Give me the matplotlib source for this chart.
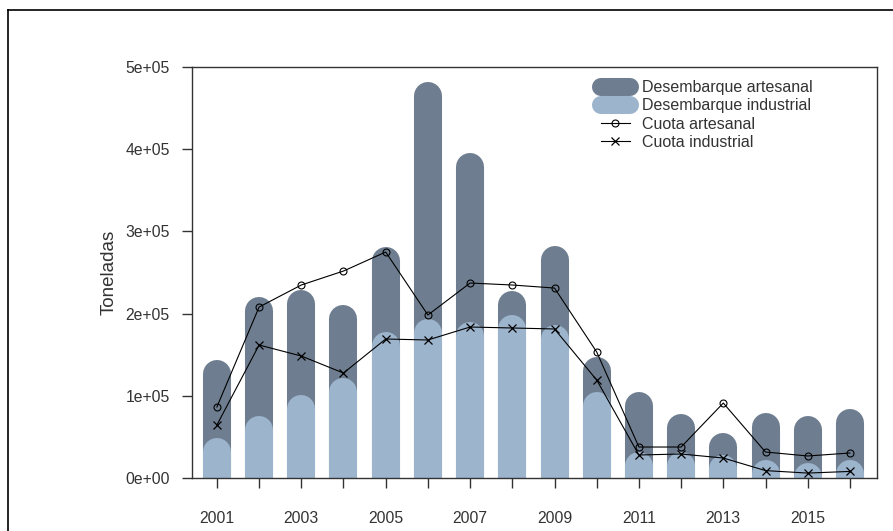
import numpy as np
import matplotlib
matplotlib.use('Agg')
import matplotlib.pyplot as plt
from matplotlib.lines import Line2D

plt.rcParams['font.family'] = ['Liberation Sans', 'DejaVu Sans']

# data (toneladas)
years = list(range(2001, 2017))
desemb_art = [126500, 203000, 211700, 193500, 264000, 464800, 378400, 210500,
              265200, 130200, 87600, 60900, 37700, 62100, 58400, 66900]
desemb_ind = [31700, 58400, 84000, 104700, 160600, 176400, 172800, 181300,
              169000, 87600, 14600, 14600, 11000, 5000, 1500, 5000]
cuota_art = [86400, 208000, 234800, 251800, 274900, 198300, 237200, 234800,
             231100, 153300, 37700, 37700, 91200, 31600, 26800, 30400]
cuota_ind = [64500, 161800, 148400, 127700, 169100, 167900, 183700, 182500,
             181300, 119200, 28000, 29200, 24300, 9000, 6000, 8000]
yticks = [0, 100000, 200000, 300000, 400000, 500000]
ytick_labels = ['0e+00', '1e+05', '2e+05', '3e+05', '4e+05', '5e+05']
xtick_labels = [str(y) if y % 2 == 1 else '' for y in years]

dark = '#6e7e90'
light = '#9db4cd'
txt = '#333333'

fig = plt.figure(figsize=(8.93, 5.31), dpi=100)
ax = fig.add_axes([0.215, 0.0998, 0.767, 0.774])

bar_lw = 20.2
ax.vlines(years, 0, desemb_art, colors=dark, linewidth=bar_lw, capstyle='round', zorder=1)
ax.vlines(years, 0, desemb_ind, colors=light, linewidth=bar_lw, capstyle='round', zorder=2)

ax.plot(years, cuota_art, color='black', lw=0.8, marker='o', ms=5, mfc='none',
        mew=0.8, zorder=3)
ax.plot(years, cuota_ind, color='black', lw=0.8, marker='x', ms=5.5, mew=0.9, zorder=3)

ax.set_xlim(2000.41, 2016.64)
ax.set_ylim(0, 500000)
ax.set_xticks(years)
ax.set_xticklabels(xtick_labels)
ax.set_yticks(yticks)
ax.set_yticklabels(ytick_labels)
ax.tick_params(direction='out', length=7, width=1, color='#333333', labelcolor=txt,
               labelsize=11.3)
ax.tick_params(axis='x', pad=17)
ax.tick_params(axis='y', pad=9)
for s in ax.spines.values():
    s.set_color('#333333')
    s.set_linewidth(1)

ax.set_ylabel('Toneladas', fontsize=13.5, color=txt)
ax.yaxis.set_label_coords(-0.108, 0.5)

handles = [
    Line2D([], [], color=dark, lw=13, solid_capstyle='round'),
    Line2D([], [], color=light, lw=13, solid_capstyle='round'),
    Line2D([], [], color='black', lw=0.8, marker='o', ms=5, mfc='none', mew=0.8),
    Line2D([], [], color='black', lw=0.8, marker='x', ms=5.5, mew=0.9),
]
labels = ['Desembarque artesanal', 'Desembarque industrial', 'Cuota artesanal',
          'Cuota industrial']
leg = ax.legend(handles, labels, loc='upper left', bbox_to_anchor=(0.597, 0.968),
                frameon=False, fontsize=11.5, borderpad=0, borderaxespad=0,
                handlelength=1.8, handletextpad=0.75, labelspacing=0.2)
for t in leg.get_texts():
    t.set_color(txt)

# outer frame of the original figure
fig.add_artist(Line2D([0.009, 0.009], [0, 0.981], transform=fig.transFigure,
                      color='black', lw=1.2))
fig.add_artist(Line2D([0.009, 1.0], [0.981, 0.981], transform=fig.transFigure,
                      color='black', lw=1.2))

fig.savefig('out.png', dpi=100)
